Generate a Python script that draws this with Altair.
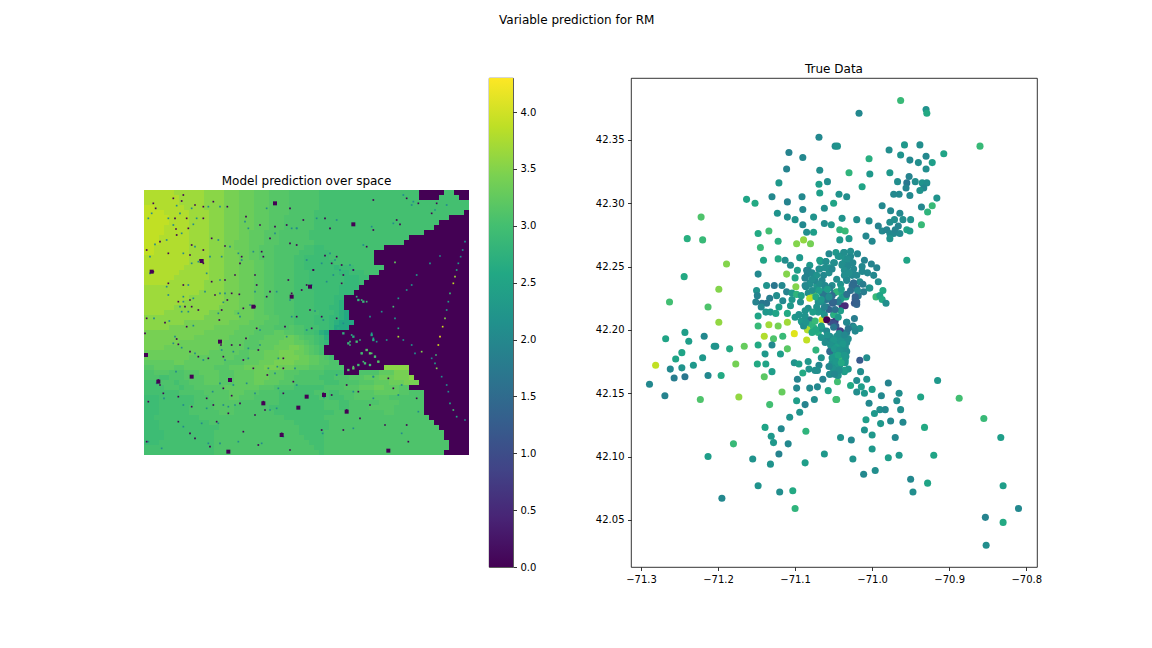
import altair as alt
import pandas as pd

FONT = "DejaVu Sans"
SUPTITLE = "Variable prediction for RM"
LEFT_TITLE = "Model prediction over space"
RIGHT_TITLE = "True Data"

LON = [
-71.069,-71.048,-71.108,-71.090,-71.111,-71.068,-71.121,-71.069,-71.058,-71.068,
-71.163,-71.152,-71.130,-71.110,-71.091,-71.050,-71.062,-71.090,-71.123,-71.110,
-71.100,-71.076,-71.222,-71.090,-71.062,-71.053,-71.085,-71.076,-71.148,-71.134,
-71.240,-71.220,-71.122,-71.098,-71.089,-71.080,-71.145,-71.056,-71.047,-71.141,
-71.122,-71.113,-71.094,-71.067,-71.060,-71.081,-71.106,-71.050,-71.189,-71.097,
-71.069,-71.055,-71.148,-71.111,-71.244,-71.083,-71.084,-71.087,-71.063,-71.056,
-71.100,-71.076,-71.081,-71.065,-71.199,-71.137,-71.127,-71.117,-71.099,-71.086,
-71.072,-71.061,-71.052,-71.150,-71.111,-71.104,-71.098,-71.083,-71.076,-71.065,
-71.057,-71.049,-71.149,-71.124,-71.133,-71.081,-71.092,-71.263,-71.151,-71.143,
-71.137,-71.116,-71.104,-71.093,-71.070,-71.059,-71.052,-71.063,-71.213,-71.144,
-71.121,-71.106,-71.083,-71.065,-71.138,-71.132,-71.125,-71.110,-71.087,-71.148,
-71.100,-71.095,-71.081,-71.092,-71.050,-71.199,-71.148,-71.134,-71.122,-71.110,
-71.065,-71.080,-71.074,-71.054,-71.048,-71.243,-71.268,-71.218,-71.238,-71.140,
-71.128,-71.116,-71.101,-71.084,-71.085,-71.205,-71.203,-71.185,-71.166,-71.148,
-71.130,-71.110,-71.073,-71.247,-71.139,-71.119,-71.066,-71.220,-71.255,-71.281,
-71.262,-71.247,-71.232,-71.177,-71.149,-71.138,-71.130,-71.101,-71.095,-71.083,
-71.082,-71.069,-71.074,-71.071,-71.090,-71.055,-71.257,-71.243,-71.213,-71.196,
-71.140,-71.097,-71.064,-71.289,-71.098,-71.081,-71.071,-71.057,-71.117,-71.269,
-71.223,-71.173,-71.133,-71.098,-71.075,-71.087,-71.047,-71.094,-71.107,-71.139,
-71.118,-71.086,-71.131,-71.180,-71.128,-71.109,-71.121,-71.062,-71.213,-71.155,
-71.132,-71.087,-71.148,-71.120,-71.103,-71.195,-71.100,-70.963,-70.930,-70.929,
-71.017,-70.860,-71.045,-70.958,-70.938,-70.978,-70.963,-70.907,-70.930,-71.004,
-70.951,-70.940,-70.922,-70.930,-71.030,-71.003,-70.977,-70.952,-70.967,-70.955,
-70.944,-70.935,-70.929,-71.013,-70.956,-70.933,-70.938,-71.043,-70.972,-70.965,
-70.951,-71.033,-70.916,-70.987,-70.922,-70.936,-70.976,-70.928,-70.964,-71.039,
-71.020,-71.004,-70.950,-70.936,-70.992,-70.977,-70.971,-70.960,-70.966,-70.955,
-70.951,-70.987,-70.981,-70.977,-70.972,-70.970,-70.964,-70.977,-71.042,-71.035,
-71.008,-71.000,-71.042,-71.030,-71.036,-71.028,-71.019,-71.042,-71.028,-71.010,
-71.035,-70.955,-71.001,-70.994,-71.013,-71.039,-71.033,-71.024,-71.013,-71.006,
-70.998,-71.036,-71.026,-71.033,-70.992,-71.016,-71.024,-71.003,-71.020,-71.011,
-70.986,-71.046,-71.039,-71.018,-70.995,-70.990,-70.987,-70.982,-71.022,-71.023,
-71.020,-71.037,-71.034,-71.039,-71.035,-71.041,-71.051,-71.044,-71.041,-71.049,
-71.023,-71.044,-71.033,-71.050,-71.025,-71.041,-71.047,-71.016,-71.024,-71.033,
-71.054,-71.046,-71.037,-71.032,-71.050,-71.041,-71.035,-71.054,-71.048,-71.034,
-71.039,-71.046,-71.052,-71.035,-71.042,-71.050,-71.031,-71.036,-71.045,-71.016,
-71.007,-71.015,-71.020,-71.007,-70.979,-70.915,-71.045,-71.028,-71.014,-71.000,
-71.020,-71.010,-70.988,-70.965,-70.937,-70.887,-71.046,-71.004,-70.968,-70.990,
-70.983,-70.963,-70.997,-71.008,-70.989,-70.976,-70.960,-70.855,-70.932,-71.010,
-71.000,-70.970,-71.041,-71.027,-70.833,-71.000,-70.979,-70.965,-70.920,-71.025,
-70.996,-71.011,-70.950,-70.928,-70.830,-70.947,-70.810,-70.853,-70.830,-70.852,
-71.078,-71.085,-71.074,-71.081,-71.068,-71.061,-71.055,-71.072,-71.078,-71.063,
-71.052,-71.059,-71.068,-71.050,-71.037,-71.035,-71.029,-71.039,-71.031,-71.036,
-71.026,-71.035,-71.033,-71.024,-71.026,-71.019,-71.022,-71.020,-71.004,-71.068,
-71.060,-71.049,-71.044,-71.068,-71.061,-71.052,-71.087,-71.087,-71.087,-71.091,
-71.089,-71.076,-71.070,-71.065,-71.059,-71.050,-71.042,-71.033,-71.031,-71.022,
-71.055,-71.046,-71.059,-71.052,-71.039,-71.031,-71.044,-71.035,-71.055,-71.046,
-71.037,-71.048,-71.039,-71.035,-71.052,-71.044,-71.050,-71.055,-71.044,-71.036,
-71.058,-71.043,-71.036,-71.050,-71.041,-71.033,-71.054,-71.046,-71.038,-71.049,
-71.042,-71.033,-71.052,-71.044,-71.036,-71.047,-71.040,-71.056,-71.043,-71.049,
-71.066,-71.073,-71.078,-71.066,-71.061,-71.086,-71.070,-71.062,-71.056,-71.048,
-71.072,-71.078,-71.069,-71.073,-71.066,-71.056,-71.062,-71.072,-71.077,-71.058,
-71.046,-71.041,-71.032,-71.025,-71.030,-71.020,-71.012,-71.028,-71.033,-71.040,
-71.059,-71.059,
]
LAT = [
42.352,42.345,42.340,42.336,42.327,42.326,42.316,42.315,42.317,42.308,
42.303,42.300,42.305,42.301,42.305,42.300,42.296,42.295,42.292,42.289,
42.287,42.289,42.289,42.283,42.284,42.283,42.277,42.277,42.276,42.278,
42.272,42.271,42.270,42.268,42.271,42.268,42.265,42.260,42.261,42.255,
42.256,42.255,42.257,42.254,42.254,42.251,42.251,42.253,42.252,42.247,
42.248,42.249,42.244,42.244,42.242,42.247,42.244,42.241,42.243,42.245,
42.241,42.240,42.237,42.239,42.232,42.235,42.235,42.235,42.234,42.234,
42.235,42.233,42.235,42.231,42.230,42.229,42.228,42.229,42.229,42.229,
42.227,42.229,42.227,42.227,42.225,42.225,42.227,42.222,42.222,42.221,
42.221,42.223,42.224,42.222,42.222,42.218,42.222,42.223,42.218,42.218,
42.218,42.219,42.217,42.215,42.214,42.214,42.213,42.213,42.215,42.211,
42.210,42.212,42.208,42.207,42.212,42.206,42.203,42.204,42.203,42.206,
42.208,42.204,42.207,42.206,42.207,42.198,42.193,42.195,42.191,42.195,
42.193,42.195,42.197,42.200,42.192,42.187,42.187,42.185,42.187,42.188,
42.188,42.185,42.184,42.182,42.181,42.181,42.178,42.178,42.177,42.172,
42.169,42.170,42.172,42.173,42.173,42.173,42.167,42.174,42.173,42.175,
42.169,42.172,42.168,42.168,42.166,42.165,42.162,42.163,42.164,42.164,
42.163,42.161,42.161,42.157,42.154,42.154,42.155,42.152,42.151,42.148,
42.145,42.147,42.141,42.144,42.145,42.141,42.145,42.135,42.131,42.123,
42.122,42.120,42.116,42.110,42.111,42.110,42.102,42.102,42.100,42.098,
42.094,42.095,42.077,42.072,42.073,42.067,42.059,42.381,42.374,42.371,
42.371,42.345,42.345,42.346,42.346,42.342,42.338,42.339,42.337,42.335,
42.334,42.332,42.332,42.327,42.324,42.323,42.324,42.321,42.317,42.316,
42.317,42.316,42.316,42.313,42.312,42.312,42.310,42.307,42.307,42.307,
42.306,42.305,42.304,42.298,42.298,42.297,42.294,42.293,42.292,42.288,
42.287,42.286,42.287,42.283,42.282,42.285,42.287,42.287,42.282,42.279,
42.278,42.278,42.279,42.276,42.276,42.279,42.276,42.272,42.279,42.278,
42.274,42.270,42.271,42.272,42.261,42.262,42.260,42.258,42.258,42.255,
42.255,42.255,42.252,42.249,42.250,42.251,42.249,42.248,42.246,42.245,
42.243,42.243,42.243,42.240,42.238,42.238,42.237,42.233,42.233,42.230,
42.231,42.230,42.228,42.227,42.226,42.227,42.224,42.221,42.224,42.221,
42.220,42.226,42.226,42.219,42.219,42.224,42.221,42.222,42.215,42.212,
42.209,42.210,42.206,42.205,42.203,42.199,42.203,42.201,42.202,42.198,
42.193,42.195,42.194,42.193,42.189,42.187,42.185,42.183,42.181,42.179,
42.177,42.176,42.173,42.174,42.172,42.169,42.169,42.167,42.164,42.176,
42.178,42.167,42.160,42.161,42.158,42.160,42.159,42.156,42.155,42.153,
42.151,42.150,42.148,42.150,42.147,42.146,42.145,42.142,42.144,42.137,
42.137,42.137,42.134,42.129,42.126,42.128,42.127,42.130,42.123,42.121,
42.117,42.115,42.115,42.113,42.115,42.106,42.099,42.101,42.101,42.098,
42.089,42.086,42.082,42.079,42.077,42.072,42.059,42.052,42.048,42.030,
42.245,42.247,42.239,42.236,42.236,42.235,42.233,42.232,42.231,42.228,
42.227,42.224,42.222,42.222,42.261,42.256,42.257,42.252,42.251,42.247,
42.245,42.243,42.239,42.237,42.235,42.231,42.226,42.222,42.233,42.255,
42.254,42.253,42.258,42.248,42.249,42.248,42.241,42.235,42.211,42.206,
42.203,42.202,42.198,42.201,42.199,42.202,42.199,42.206,42.201,42.199,
42.195,42.194,42.193,42.191,42.193,42.193,42.189,42.187,42.183,42.183,
42.182,42.179,42.178,42.176,42.174,42.172,42.169,42.165,42.164,42.168,
42.196,42.197,42.196,42.192,42.191,42.190,42.188,42.186,42.189,42.185,
42.184,42.183,42.178,42.180,42.180,42.175,42.174,42.171,42.168,42.165,
42.203,42.200,42.198,42.194,42.190,42.206,42.214,42.212,42.216,42.216,
42.243,42.240,42.231,42.226,42.224,42.226,42.218,42.218,42.214,42.232,
42.240,42.236,42.256,42.253,42.245,42.243,42.236,42.231,42.228,42.232,
42.208,42.208,
]
RM = [
2.0,2.1,1.9,2.0,1.9,2.1,2.3,2.4,2.1,2.4,
2.5,2.6,2.0,1.9,2.0,2.5,2.1,2.0,2.2,2.1,
2.2,2.2,3.1,2.0,2.1,2.3,2.1,2.4,2.6,3.0,
2.7,2.9,2.7,3.5,3.6,3.4,2.9,2.0,2.3,2.5,
2.6,2.1,2.3,2.3,2.1,2.3,2.1,2.1,3.5,2.4,
2.0,2.2,2.0,3.5,2.6,1.9,1.9,1.9,2.0,2.1,
2.5,2.0,2.0,2.0,3.5,2.2,1.7,2.0,3.5,2.0,
2.3,2.3,2.1,2.2,1.9,2.3,2.8,2.1,3.4,2.3,
2.0,1.6,1.9,2.1,1.8,3.9,2.4,3.0,1.9,1.7,
1.7,2.0,2.3,2.1,2.1,1.7,1.4,2.2,3.1,2.0,
2.4,2.3,2.1,2.1,2.3,2.3,2.5,2.6,2.2,2.5,
2.3,2.2,1.7,2.3,2.3,3.6,2.9,3.7,3.4,3.7,
4.0,2.8,2.9,1.0,0.7,2.4,2.5,2.0,2.4,3.8,
3.1,2.9,4.1,3.8,3.9,2.3,2.2,2.6,3.3,2.6,
2.0,3.2,2.8,2.5,2.3,2.4,2.2,2.3,2.5,3.9,
2.0,2.2,2.3,3.4,2.6,2.5,2.4,2.2,2.4,2.3,
2.2,2.0,2.1,2.1,2.6,1.9,1.8,1.7,2.0,2.6,
3.2,1.9,1.9,2.0,2.0,2.0,2.0,2.5,3.3,1.9,
3.1,3.6,3.0,2.4,2.1,1.9,3.0,2.2,2.2,2.5,
2.0,2.8,2.3,2.9,2.3,2.0,1.9,2.3,2.4,2.2,
2.2,2.4,2.2,2.1,2.6,2.0,2.8,2.9,2.2,2.6,
2.0,2.9,2.2,2.3,2.1,2.1,2.2,2.5,2.0,2.7,
2.0,2.1,2.4,2.1,2.8,2.3,2.3,1.9,2.1,1.7,
2.1,2.2,2.1,2.5,1.9,2.0,2.2,2.2,2.0,2.0,
2.0,2.1,2.2,2.0,2.9,2.0,2.0,2.8,2.0,2.2,
2.1,2.1,2.2,2.9,1.9,2.1,2.1,2.1,1.9,2.5,
2.4,2.0,1.9,2.0,2.0,1.9,2.0,2.2,2.8,2.9,
2.0,2.0,2.3,2.3,2.2,2.1,2.0,2.2,2.1,1.9,
2.1,2.5,1.9,1.9,2.0,2.1,2.0,2.0,2.0,2.0,
2.0,2.0,2.0,2.0,2.1,2.1,1.5,2.2,1.5,1.8,
2.6,2.8,2.6,1.7,2.9,2.5,2.6,2.1,1.3,1.2,
1.4,2.3,2.6,0.5,0.5,2.3,1.3,1.8,2.4,2.7,
1.8,2.3,2.0,1.0,1.8,0.7,1.2,2.2,2.1,1.8,
1.3,2.3,2.1,2.0,2.3,2.3,2.2,1.5,2.4,2.2,
2.9,2.4,2.0,2.3,2.3,2.2,2.3,2.4,2.1,1.2,
2.1,2.1,2.1,2.2,1.9,2.3,3.0,2.6,2.4,2.4,
2.1,2.3,2.0,2.1,2.5,3.0,3.0,2.0,2.1,2.1,
2.0,2.1,2.3,2.4,2.3,2.0,2.0,2.9,2.6,2.2,
2.3,2.0,2.2,2.0,2.4,2.3,2.4,2.3,2.5,2.2,
2.1,2.0,2.0,2.5,2.4,2.1,2.0,1.9,2.6,2.1,
2.0,1.9,2.0,2.1,2.1,2.0,1.9,2.2,2.1,1.7,
1.5,1.7,2.2,1.4,2.1,2.2,2.0,2.1,2.0,2.1,
2.0,2.1,2.0,1.5,1.5,2.0,1.3,1.3,2.2,2.4,
2.1,2.1,2.2,2.1,2.1,2.0,1.9,2.0,2.2,2.3,
2.1,2.8,2.7,2.2,2.0,1.7,0.8,2.0,1.7,2.0,
2.1,2.2,2.0,2.1,2.2,2.1,2.3,2.2,1.5,2.2,
2.3,2.4,2.9,2.3,2.2,2.3,2.2,2.1,2.2,2.4,
2.2,2.1,2.0,2.3,2.2,2.1,2.2,2.4,2.3,2.3,
2.2,2.1,2.3,2.5,2.3,2.3,2.6,2.0,2.1,2.0,
2.4,2.6,2.6,2.2,2.1,2.2,2.3,2.2,1.4,1.6,
2.2,2.1,2.4,2.6,2.3,2.1,1.9,2.2,2.4,2.4,
2.1,2.2,2.1,2.0,2.1,2.0,1.8,1.6,1.6,2.4,
4.3,0.0,
]

# Raster of the model output, one run-length row per image band.
LEVELS = {".": 0.0, "a": 2.6, "b": 2.75, "c": 2.88, "d": 2.95, "e": 3.02, "f": 3.1, "g": 3.17,
          "h": 3.25, "i": 3.33, "j": 3.42, "k": 3.55, "l": 3.68, "m": 3.8, "n": 3.9}
RASTER_ROWS = [
"m6 l6 k4 j3 i3 h3 g4 f6 e20 .5 e2 .3",
"m7 l5 k4 j3 i3 h3 g4 f6 e20 .4 e4 .2",
"m7 l5 k4 j3 i3 h3 g4 f6 e30",
"n2 m6 l4 k4 j3 i3 h3 g4 f6 e30",
"n4 m5 l4 k3 j3 i3 h3 g4 f5 e30 .1",
"n5 m4 l4 k3 j3 i3 h3 g3 f6 e27 .4",
"n5 m4 l4 k3 j3 i3 h3 g3 f6 e25 .6",
"n4 m5 l4 k3 j3 i3 h3 g3 f6 e24 .7",
"n4 m5 l4 k3 j3 i2 h3 g3 f6 e23",
"n3 m6 l4 k3 j3 i2 h3 g3 f6 e20",
"n3 m6 l4 k3 j2 i3 h3 g3 f7 e18",
"n2 m7 l4 k3 j2 i3 h2 g3 f6 e2 d2 e12",
"n2 m7 l4 k3 j3 i2 h2 g3 f5 e3 d3 e9",
"m9 l4 k3 j3 i2 h2 g3 f4 e2 d5 e9",
"m9 l4 k3 j3 i3 h2 g2 f4 e2 d6 e8",
"m8 l5 k3 j3 i3 h2 g2 f4 e2 d6 c1 d3 e6",
"m7 l6 k3 j3 i3 h2 g2 f4 e3 d6 c2 d3 e3",
"m6 l7 k3 j3 i3 h2 g2 f4 e3 d7 c3 d2",
"m5 l7 k4 j3 i3 h2 g2 f4 e3 d7 c3 d1",
"l12 k4 j3 i3 h2 g2 f4 e3 d6 c4",
"l11 k5 j3 i3 h2 g2 f4 e4 d5 c3",
"l9 k7 j3 i3 h2 g2 f4 e4 d4 c2",
"l8 k8 j3 i3 h2 g2 f4 e4 d4 c1 b1",
"l6 k9 j4 i3 h2 g2 f4 e4 d3 c2 b1",
"l4 k9 j5 i4 h2 g2 f4 e5 d3 c1 b1 a1",
"k12 j7 i3 h3 g2 f3 e4 d3 c2 b1 a1",
"k8 j9 i4 h3 g3 f3 e4 d3 c1 b1 a3",
"k5 j9 i5 h4 g3 f3 g1 f2 e3 d2 c1 a3",
"j12 i6 h4 g4 h2 g2 f2 e2 d1 b1 a1",
"j10 i7 h4 g3 h4 i2 h1 g1 f2 e1 d1 b1",
"j7 i9 h4 g3 h4 i3 h2 g1 f1 e1 d1 c1",
"j4 i11 h5 g3 h3 i3 j2 i1 h1 g1 f1 e1",
"i13 h6 g2 h3 i3 j3 i2 h1 g1 f1 e1",
"i9 h9 g3 h3 i3 j4 i2 h2 g1 f1 e1",
"h6 i2 h8 g4 h3 i3 j4 i3 h2 g2 f2",
"g2 h4 g2 h6 g3 h3 i4 j3 i3 h3 g3 f4 .8 k5",
"f2 g3 f3 g3 h4 g3 h4 i3 h3 g3 f5 e4 .3 f4 h3 j3",
"f3 e2 f3 g4 h3 g3 h4 i3 h3 g2 f5 e3 f3 g3 h3 i3 j3 k1",
"e3 f3 e1 f2 g3 h3 g3 h4 i2 h3 g3 f6 e3 f4 g3 h3 i3 j3",
"e4 f3 e1 f2 g3 g3 h4 h3 g3 f4 e6 f4 g3 h3 i2 h3 g2",
"e7 f2 f3 g5 h3 g3 f4 e7 f3 e2 f3 g4 h5 g2 f3",
"d3 e7 f3 g4 h2 g3 f5 e8 f2 e3 f2 g4 g3 f7",
"d3 e7 f4 g3 g2 f3 f5 e9 f3 e2 f3 f3 g4 f5",
"d3 e6 f5 g4 f7 e11 f3 e2 f4 g5 f6",
"d3 e6 f6 g3 f8 e12 f10 g2 f6",
"d2 e9 f17 e8 f21",
"d3 e10 f17 e7 f21",
"d3 e12 f16 e6 f22",
"d4 e10 f17 e5 f24",
"d4 e10 f18 e4 f24",
"d3 e11 f19 e3 f25",
"e14 f20 e2 f25",
"e14 f21 e1 f24",
]
RASTER_COLS = 65
RASTER_STEP = 15
RASTER_X0 = 12
RASTER_Y0 = 15

# Small dark holes in the raster (raster column, raster row).
HOLE_X = [40,47,100,130,125,165,190,220,262,105,140,190,108,145,110,60,155,190,150,85,20,318,360,405,390,365,370,305,300,255,215,190,180,40,85,130,215,255,285,345,
225,275,298,115,150,135,155,175,262,245,238,310,345,20,75,140,15,110,115,150,175,205,243,250,275,318,350,310,340,355,300,430,382,430,
55,60,70,115,25,155,200,250,270,275,265,300,230,220,375,370,345,430,460,500,550,575,620,655,690,620,545,610,660,735,800,805,760,745,830,
115,165,210,265,310,355,425,450,20,150,450,470,455,500,485,520,555,590,575,605,640,610,605,445,520,510,545,590,470,515,435,390,380,350,
700,800,835,890,875,770,780,700,680,490,555,570,440,450]
HOLE_Y = [55,70,40,30,48,60,65,50,65,100,100,100,132,130,150,170,180,195,210,205,195,95,120,125,160,200,215,215,235,183,160,235,225,260,295,300,290,285,270,270,
330,325,328,350,345,365,365,375,345,375,405,370,365,400,413,425,445,462,478,500,515,520,480,515,480,460,430,525,550,495,480,520,570,550,
585,600,625,635,650,665,640,610,585,632,685,655,710,660,675,650,690,625,590,635,625,630,675,620,660,600,735,735,700,720,720,770,610,580,640,
710,760,785,800,740,780,745,795,770,745,175,180,325,300,315,255,212,215,235,240,255,270,295,285,255,375,395,400,395,430,425,320,335,300,
45,40,55,55,85,105,118,135,185,105,100,130,120,70]
# Larger dark holes.
BIG_X = [405,640,185,510,340,18,55,155,270,475,552,620,425,265,745,35,500,455,240,370]
BIG_Y = [55,118,228,305,365,510,590,575,585,668,630,680,750,800,797,260,635,335,470,655]
# Teal specks on land.
SPECK_X = [35,25,110,155,205,240,85,120,170,100,160,125,80,45,165,210,130,30,315,325,405,340,295,305,245,270,235,175,155,30,80,145,240,200,195,255,240,85,130,130,160,120,145,125,250,235,295,330,300,42,88,160,105,100,125,165,190,245,255,280,360,325,325,360,415,412,385,405,465,
50,108,72,130,218,240,280,250,285,265,200,345,390,410,320,415,470,552,640,700,700,590,548,640,785,835,775,700,785,
130,205,240,295,365,430,25,65,185,235,470,455,450,515,570,585,545,630,640,600,580,560,500,525,550,610,500,455,440,410,345,
790,820,815,885,920,760,695,670,530,590,470,380]
SPECK_Y = [85,100,62,70,65,65,100,85,100,120,118,145,165,178,185,215,205,215,110,130,145,200,205,225,215,185,165,230,235,265,305,300,285,265,320,325,325,330,335,350,340,365,380,380,352,385,385,360,395,400,408,422,455,475,488,505,525,495,525,500,480,490,520,435,520,545,550,565,550,
595,560,640,660,620,595,600,660,660,665,670,625,675,670,595,610,600,637,620,640,575,570,745,730,745,680,630,575,600,
725,775,775,770,775,755,770,790,715,715,130,130,345,300,205,225,235,240,255,255,270,290,435,378,405,415,225,395,455,320,320,
30,50,60,75,60,115,125,180,100,105,130,70]
# Islands and shoals out in the water, and the level each one shows.
ISLE_X = [968,962,955,950,945,940,930,925,920,915,908,900,895,888,875,885,890,905,920,925,930,940,950,975,985,975,900,870,830,815,800,775,760,765,775,775,740,710,790,815,845,825,725,690,765,635,630,660,695,700,630,665,640,670,680,695,705,715,650,665,680]
ISLE_Y = [195,215,235,255,275,295,325,350,375,400,425,455,480,510,520,535,550,575,600,620,655,675,695,705,240,170,213,235,270,300,315,340,365,400,430,455,465,470,465,480,500,505,380,395,232,450,470,465,445,460,480,505,545,530,495,505,515,530,335,345,350]
ISLE_V = [2.2,2.2,2.4,2.6,3.7,3.9,2.9,2.5,2.4,3.5,4.0,4.2,4.0,3.0,2.0,2.4,3.5,2.2,2.1,2.1,2.5,3.0,2.6,2.2,3.1,2.2,2.2,2.3,2.4,2.3,2.2,2.3,3.0,2.3,2.6,3.8,2.2,2.3,2.2,2.3,3.5,2.2,2.2,2.2,3.3,2.7,3.0,2.8,2.4,2.5,2.9,2.9,3.2,3.0,3.1,3.1,3.0,3.1,2.8,2.9,2.9]
# Land patches along the harbour shore.
PATCH_X = [640,625,650,655,670,695,700,665,680,690,705,715,640,625,655,675,690,610,595]
PATCH_Y = [455,475,470,345,350,450,465,505,495,505,515,530,550,555,540,535,540,445,430]
PATCH_V = [2.7,2.9,3.0,2.8,2.9,2.5,2.6,3.1,3.2,3.2,3.1,3.2,3.2,3.1,3.0,3.0,3.0,2.8,2.7]

COLORBAR_STOPS = ["#440154","#482475","#414487","#355f8d","#2a788e","#21918c","#22a884","#44bf70","#7ad151","#bddf26","#fde725"]
COLORBAR_TICKS = [0.0,0.5,1.0,1.5,2.0,2.5,3.0,3.5,4.0]
VMAX = 4.3
LON_TICKS = [-71.3,-71.2,-71.1,-71.0,-70.9,-70.8]
LAT_TICKS = [42.05,42.10,42.15,42.20,42.25,42.30,42.35]

assert len(LON) == len(LAT) == len(RM), (len(LON), len(LAT), len(RM))

cells = []
for r, row in enumerate(RASTER_ROWS):
    c = 0
    for run in row.split():
        for _ in range(int(run[1:])):
            if c < RASTER_COLS:
                x = RASTER_X0 + c * RASTER_STEP
                y = RASTER_Y0 + r * RASTER_STEP
                cells.append((x, x + RASTER_STEP, y, y + RASTER_STEP, LEVELS[run[0]]))
            c += 1
    while c < RASTER_COLS:
        x = RASTER_X0 + c * RASTER_STEP
        y = RASTER_Y0 + r * RASTER_STEP
        cells.append((x, x + RASTER_STEP, y, y + RASTER_STEP, 0.0))
        c += 1

def dots(xs, ys, vals, half):
    n = min(len(xs), len(ys), len(vals))
    return [(xs[i] - half, xs[i] + half, ys[i] - half, ys[i] + half, vals[i]) for i in range(n)]

cells += dots(PATCH_X, PATCH_Y, PATCH_V, 3.5)
cells += dots(SPECK_X, SPECK_Y, [2.0] * len(SPECK_X), 2.5)
cells += dots(HOLE_X, HOLE_Y, [0.0] * len(HOLE_X), 2.5)
cells += dots(BIG_X, BIG_Y, [0.0] * len(BIG_X), 6)
cells += dots(ISLE_X, ISLE_Y, ISLE_V, 2.5)
cells = [t for t in cells if t[1] <= 987 and t[3] <= 810 and t[0] >= 12 and t[2] >= 15]
raster = pd.DataFrame(cells, columns=["x", "x2", "y", "y2", "v"])

color = alt.Color("v:Q", scale=alt.Scale(scheme="viridis", domain=[0, VMAX]), legend=None)

heat = alt.Chart(raster).mark_rect(strokeWidth=0).encode(
    x=alt.X("x:Q", axis=None, scale=alt.Scale(domain=[12, 987], nice=False, zero=False)),
    x2="x2:Q",
    y=alt.Y("y:Q", axis=None, scale=alt.Scale(domain=[15, 810], range=[112, 377], nice=False, zero=False)),
    y2="y2:Q",
    color=color,
)
heat_title = alt.Chart(pd.DataFrame({"t": [LEFT_TITLE]})).mark_text(
    font=FONT, fontSize=12, color="black", baseline="middle"
).encode(x=alt.value(162.5), y=alt.value(103), text="t:N")
left = alt.layer(heat, heat_title).properties(width=325, height=489, view=alt.ViewBackground(stroke="transparent"))

bar = alt.Chart(pd.DataFrame({"lo": [0.0], "hi": [VMAX]})).mark_rect(
    color=alt.Gradient(
        gradient="linear",
        stops=[alt.GradientStop(offset=i / 10, color=c) for i, c in enumerate(COLORBAR_STOPS)],
        x1=0, x2=0, y1=1, y2=0,
    )
).encode(
    x=alt.value(0), x2=alt.value(24),
    y=alt.Y("lo:Q", scale=alt.Scale(domain=[0, VMAX], nice=False),
            axis=alt.Axis(orient="right", values=COLORBAR_TICKS, format=".1f", title=None, grid=False,
                          domain=False, minExtent=30, maxExtent=30)),
    y2="hi:Q",
).properties(width=24, height=489, view=alt.ViewBackground(stroke="black", strokeWidth=0.8))

scatter = alt.Chart(pd.DataFrame({"lon": LON, "lat": LAT, "v": RM})).mark_circle(size=50, opacity=1).encode(
    x=alt.X("lon:Q", scale=alt.Scale(domain=[-71.313, -70.786], nice=False, zero=False),
            axis=alt.Axis(values=LON_TICKS, format=".1f", title=None, grid=False, domain=False)),
    y=alt.Y("lat:Q", scale=alt.Scale(domain=[42.0128, 42.3988], nice=False, zero=False),
            axis=alt.Axis(values=LAT_TICKS, format=".2f", title=None, grid=False, domain=False,
                          minExtent=42, maxExtent=42)),
    color=color,
    order=alt.Order("idx:Q"),
).transform_window(idx="row_number()").properties(
    width=406, height=489,
    title=alt.TitleParams(RIGHT_TITLE, font=FONT, fontSize=12, fontWeight="normal", offset=2, color="black"),
    view=alt.ViewBackground(stroke="black", strokeWidth=0.8),
)

chart = alt.hconcat(
    alt.hconcat(left, bar, spacing=18),
    scatter,
    spacing=44,
).resolve_scale(color="shared").properties(
    padding={"left": 135, "top": 5, "right": 0, "bottom": 0},
    title=alt.TitleParams(SUPTITLE, font=FONT, fontSize=12, fontWeight="normal", anchor="middle",
                          frame="bounds", dx=-16, offset=36, color="black"),
).configure_axis(
    labelFont=FONT, labelFontSize=10, labelColor="black", tickColor="black", tickSize=3.5,
    tickWidth=0.8, labelPadding=3.5, labelFlush=False,
)

chart.save("out.html", embed_options={"renderer": "svg", "actions": False})
